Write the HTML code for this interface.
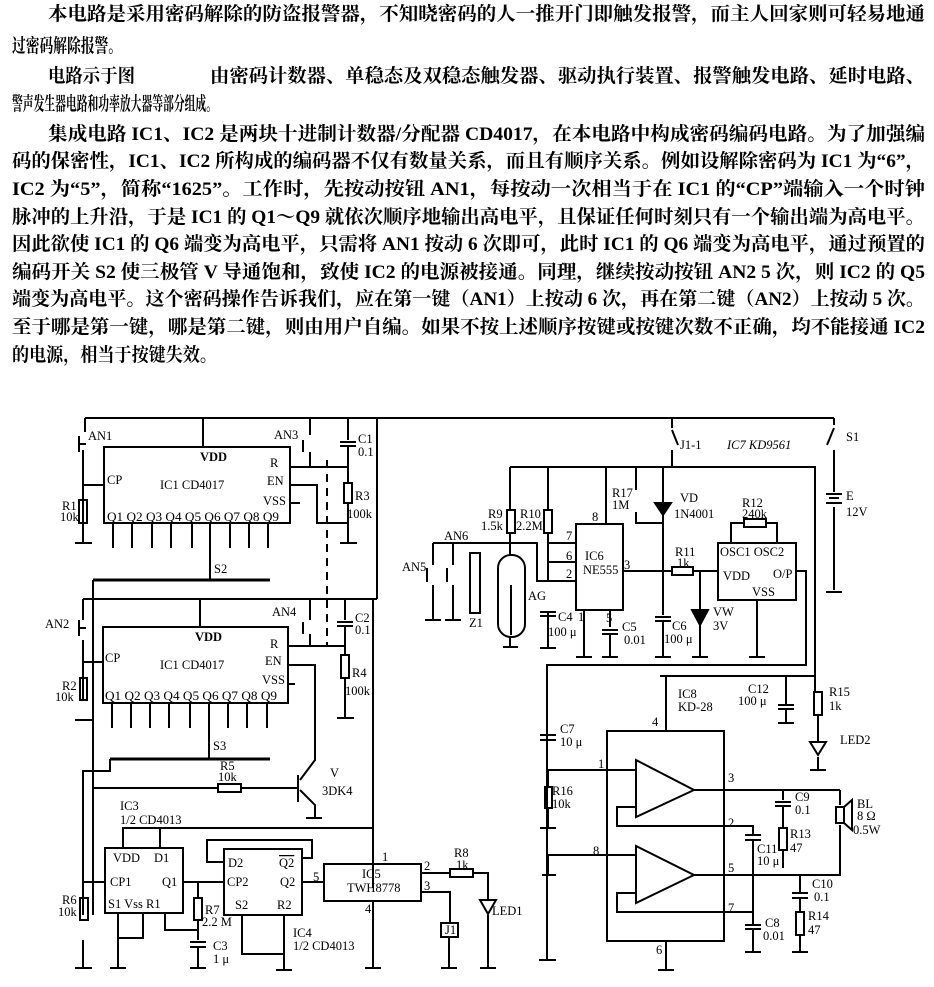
<!DOCTYPE html>
<html><head><meta charset="utf-8"><style>
html,body{margin:0;padding:0;background:#fff;}
svg{display:block}
.t{font-family:"Liberation Serif","Noto Serif CJK SC",serif;font-size:19px;font-weight:bold;fill:#000}
.l{font-family:"Liberation Serif",serif;font-size:12.5px;fill:#000}
</style></head><body>
<svg width="934" height="987" viewBox="0 0 934 987" xmlns="http://www.w3.org/2000/svg">
<g class="t">
<text x="48" y="20" textLength="877" lengthAdjust="spacingAndGlyphs">本电路是采用密码解除的防盗报警器，不知晓密码的人一推开门即触发报警，而主人回家则可轻易地通</text>
<text x="12" y="52" textLength="110" lengthAdjust="spacingAndGlyphs">过密码解除报警。</text>
<text x="48" y="82" textLength="87" lengthAdjust="spacingAndGlyphs">电路示于图</text>
<text x="210" y="82" textLength="715" lengthAdjust="spacingAndGlyphs">由密码计数器、单稳态及双稳态触发器、驱动执行装置、报警触发电路、延时电路、</text>
<text x="12" y="110" textLength="205" lengthAdjust="spacingAndGlyphs">警声发生器电路和功率放大器等部分组成。</text>
<text x="48" y="140" textLength="877" lengthAdjust="spacingAndGlyphs">集成电路 IC1、IC2 是两块十进制计数器/分配器 CD4017，在本电路中构成密码编码电路。为了加强编</text>
<text x="12" y="167" textLength="913" lengthAdjust="spacingAndGlyphs">码的保密性，IC1、IC2 所构成的编码器不仅有数量关系，而且有顺序关系。例如设解除密码为 IC1 为“6”，</text>
<text x="12" y="195" textLength="913" lengthAdjust="spacingAndGlyphs">IC2 为“5”，简称“1625”。工作时，先按动按钮 AN1，每按动一次相当于在 IC1 的“CP”端输入一个时钟</text>
<text x="12" y="223" textLength="913" lengthAdjust="spacingAndGlyphs">脉冲的上升沿，于是 IC1 的 Q1～Q9 就依次顺序地输出高电平，且保证任何时刻只有一个输出端为高电平。</text>
<text x="12" y="250" textLength="913" lengthAdjust="spacingAndGlyphs">因此欲使 IC1 的 Q6 端变为高电平，只需将 AN1 按动 6 次即可，此时 IC1 的 Q6 端变为高电平，通过预置的</text>
<text x="12" y="278" textLength="913" lengthAdjust="spacingAndGlyphs">编码开关 S2 使三极管 V 导通饱和，致使 IC2 的电源被接通。同理，继续按动按钮 AN2 5 次，则 IC2 的 Q5</text>
<text x="12" y="305" textLength="913" lengthAdjust="spacingAndGlyphs">端变为高电平。这个密码操作告诉我们，应在第一键（AN1）上按动 6 次，再在第二键（AN2）上按动 5 次。</text>
<text x="12" y="333" textLength="913" lengthAdjust="spacingAndGlyphs">至于哪是第一键，哪是第二键，则由用户自编。如果不按上述顺序按键或按键次数不正确，均不能接通 IC2</text>
<text x="12" y="361" textLength="205" lengthAdjust="spacingAndGlyphs">的电源，相当于按键失效。</text>
</g>

<g stroke="#000" stroke-width="2" fill="none">
<path d="M85 418 H834 M85 418 V432 M83 450 V542 M75 543 H92"/>
<path d="M79 436 V452 M79 444 H86"/>
<path d="M203 418 V447"/>
<rect x="104" y="447" width="186" height="76"/>
<path d="M83 485 H104"/>
<rect x="79" y="500" width="8" height="23"/>
<path d="M113 523V548 M132 523V548 M152 523V548 M171 523V548 M192 523V548 M210 523V580 M230 523V548 M249 523V548 M268 523V548"/>
<path d="M93 580 H270" stroke-width="3"/>
<path d="M93 580 V915"/>
<path d="M310 418 V435 M303 440 V452 M290 467 H348 M310 452 V467 M290 485 H317 V523 H348 M290 503 H300"/>
<path d="M348 418 V440 M340 442 H356 M340 446 H356 M348 446 V483"/>
<rect x="344" y="483" width="8" height="20"/>
<path d="M348 503 V543 M340 543 H357"/>
<path d="M327 460 V645" stroke-dasharray="8,6"/>
<path d="M377 418 V599 M373 599 V888"/>
<path d="M83 599 H377 M83 599 V620 M83 640 V700 M75 720 H92"/>
<path d="M79 620 V636 M79 628 H86"/>
<path d="M200 599 V627"/>
<rect x="103" y="627" width="185" height="76"/>
<path d="M83 662 H103"/>
<rect x="80" y="678" width="7" height="22"/>
<path d="M112 703V728 M131 703V728 M150 703V728 M169 703V728 M190 703V728 M209 703V759 M228 703V728 M247 703V728 M267 703V728"/>
<path d="M110 759 H270" stroke-width="3"/>
<path d="M110 759 V771 H83 V915 M75 968 H92 M83 940 V968"/>
<path d="M310 599 V620 M303 622 V634 M288 646 H345 M310 634 V646 M288 665 H315 V760 L300 780 M288 684 H295"/>
<path d="M345 599 V620 M337 622 H353 M337 626 H353 M345 626 V655 M345 678 V718 M337 718 H354"/>
<rect x="341" y="655" width="8" height="23"/>
<path d="M93 788 H218 M241 788 H298 M298 775 V802 M300 790 L315 805 V817 M306 818 H322"/>
<rect x="218" y="784" width="23" height="8"/>
<path d="M123 848 V828 H373 M160 848 V828"/>
<rect x="105" y="848" width="78" height="65"/>
<path d="M83 882 H105"/>
<rect x="80" y="898" width="8" height="22"/>
<path d="M118 913 V968 M110 968 H126 M118 938 H143 V913"/>
<path d="M183 882 H224 M198 882 V898 M165 913 V930 H198 V920 M198 930 V940 M190 942 H206 M190 947 H206 M198 947 V968 M190 968 H206"/>
<rect x="194" y="898" width="8" height="22"/>
<rect x="224" y="849" width="78" height="66"/>
<path d="M224 862 H207 V840 H312 V858 H302"/>
<path d="M242 915 V954 H284 V915 M284 954 V970 M276 970 H292"/>
<path d="M302 882 H324"/>
<rect x="324" y="864" width="97" height="37"/>
<path d="M373 888 V864 M373 901 V968 M365 968 H381"/>
<path d="M421 873 H450 M473 873 H488 V900 M421 892 H450 V923 M449 937 V968 M441 968 H457 M488 915 V968 M480 968 H496"/>
<rect x="450" y="869" width="23" height="8"/>
<rect x="441" y="923" width="17" height="14"/>
<path d="M480 900 H496 L488 914 Z"/>
<path d="M672 418 V428 M672 450 V467 M672 430 L678 445 M834 418 V425 M834 450 V492 M826 494 H842 M829 498 H839 M826 503 H842 M834 507 V590 M826 592 H842 M834 428 L827 445"/>
<path d="M510 467 H815 V692 M510 467 V510 M548 467 V510 M606 467 V524 M636 467 V490 M636 512 V523 H663 V467"/>
<rect x="507" y="510" width="8" height="23"/>
<rect x="544" y="510" width="8" height="23"/>
<path d="M510 533 V555 M510 637 V647 M503 647 H518 M548 533 V582 M548 611 V648 M540 648 H556 M433 543 H537 V581 H576 M548 562 H576 M548 543 H576"/>
<rect x="576" y="524" width="47" height="86"/>
<rect x="498" y="555" width="27" height="82" rx="13"/>
<path d="M511 585 V635"/>
<path d="M433 543 V565 M427 568 V582 M433 585 V620 M425 620 H441 M453 543 V565 M447 568 V582 M453 585 V620 M445 620 H461"/>
<rect x="470" y="553" width="10" height="60"/>
<path d="M540 612 H556 M540 616 H556 M584 610 V657 M576 657 H592 M610 610 V627 M602 630 H618 M602 634 H618 M610 634 V657 M602 657 H618"/>
<path d="M663 467 V615 M655 617 H671 M655 621 H671 M663 621 V657 M655 657 H671"/>
<path d="M623 571 H672 M693 571 H718 M700 571 V657 M692 657 H708"/>
<rect x="672" y="567" width="21" height="8"/>
<path d="M692 610 H708 L700 625 Z" fill="#000"/>
<path d="M655 503 H671 L663 515 Z" fill="#000"/>
<rect x="718" y="543" width="78" height="57"/>
<rect x="744" y="519" width="22" height="8"/>
<path d="M731 543 V523 H744 M766 523 H777 V543 M757 600 V657 M749 657 H765 M796 571 H806 V665 H547 V960 M539 960 H556"/>
<path d="M660 676 H815 M666 676 V731 M786 676 V705 M778 705 H794 M778 709 H794 M786 709 V723 M778 723 H794 M818 715 V742 M818 757 V770 M810 770 H826"/>
<rect x="814" y="692" width="8" height="23"/>
<path d="M810 742 H826 L818 755 Z"/>
<path d="M540 735 H556 M540 740 H556 M548 787 V770 H636 M548 808 V828 M540 828 H556"/>
<rect x="545" y="787" width="7" height="21"/>
<rect x="607" y="731" width="117" height="210"/>
<path d="M636 760 V817 L694 790 Z M636 846 V903 L694 875 Z"/>
<path d="M694 790 H840 M694 875 H840 V825 M840 805 V790 M636 807 H617 V826 H753 V835 M636 893 H617 V912 H753 V925 M745 835 H761 M745 840 H761 M753 840 V875 M753 875 V925 M745 925 H761 M745 929 H761 M753 929 V952 M745 952 H761"/>
<path d="M548 855 H636 M548 855 V875 M542 875 H556 M666 941 V970 M658 970 H674"/>
<path d="M783 790 V800 M775 802 H791 M775 806 H791 M783 806 V828 M783 850 V868"/>
<rect x="779" y="828" width="8" height="22"/>
<path d="M800 875 V893 M792 893 H808 M792 898 H808 M800 898 V912 M800 935 V952 M792 952 H808"/>
<rect x="796" y="912" width="8" height="23"/>
<rect x="836" y="807" width="8" height="16"/>
<path d="M844 807 L852 800 V830 L844 823"/>
</g>

<g class="l">
<text x="88" y="440">AN1</text><text x="200" y="461" font-weight="bold">VDD</text>
<text x="107" y="484">CP</text><text x="160" y="489">IC1   CD4017</text>
<text x="270" y="467">R</text><text x="267" y="485">EN</text><text x="263" y="505">VSS</text>
<text x="107" y="521" textLength="172" lengthAdjust="spacingAndGlyphs">Q1 Q2 Q3 Q4  Q5 Q6 Q7 Q8 Q9</text>
<text x="62" y="510">R1</text><text x="60" y="521">10k</text>
<text x="274" y="439">AN3</text><text x="358" y="443">C1</text><text x="358" y="456">0.1</text>
<text x="355" y="500">R3</text><text x="347" y="518">100k</text>
<text x="214" y="573">S2</text>
<text x="45" y="628">AN2</text><text x="195" y="641" font-weight="bold">VDD</text>
<text x="105" y="662">CP</text><text x="160" y="669">IC1   CD4017</text>
<text x="270" y="648">R</text><text x="265" y="665">EN</text><text x="262" y="684">VSS</text>
<text x="105" y="700" textLength="172" lengthAdjust="spacingAndGlyphs">Q1 Q2 Q3 Q4  Q5 Q6 Q7 Q8 Q9</text>
<text x="62" y="690">R2</text><text x="55" y="701">10k</text>
<text x="272" y="616">AN4</text><text x="355" y="622">C2</text><text x="355" y="634">0.1</text>
<text x="352" y="677">R4</text><text x="345" y="695">100k</text>
<text x="213" y="750">S3</text><text x="220" y="770">R5</text><text x="218" y="781">10k</text>
<text x="330" y="777">V</text><text x="322" y="795">3DK4</text>
<text x="120" y="810">IC3</text><text x="120" y="824">1/2   CD4013</text>
<text x="113" y="862">VDD</text><text x="154" y="862">D1</text>
<text x="110" y="886">CP1</text><text x="162" y="886">Q1</text>
<text x="108" y="908">S1  Vss  R1</text>
<text x="62" y="904">R6</text><text x="58" y="916">10k</text>
<text x="205" y="914">R7</text><text x="202" y="926">2.2 M</text>
<text x="213" y="950">C3</text><text x="213" y="963">1 μ</text>
<text x="228" y="867">D2</text><text x="279" y="867" text-decoration="overline">Q2</text>
<text x="227" y="886">CP2</text><text x="280" y="886">Q2</text>
<text x="235" y="909">S2</text><text x="277" y="909">R2</text>
<text x="293" y="937">IC4</text><text x="293" y="950">1/2   CD4013</text>
<text x="313" y="881">5</text><text x="382" y="861">1</text>
<text x="362" y="878">IC5</text><text x="347" y="892">TWH8778</text>
<text x="424" y="870">2</text><text x="424" y="890">3</text><text x="365" y="913">4</text>
<text x="454" y="857">R8</text><text x="456" y="869">1k</text>
<text x="445" y="934">J1</text><text x="492" y="915">LED1</text>
<text x="680" y="449">J1-1</text><text x="727" y="449" font-style="italic">IC7   KD9561</text>
<text x="846" y="441">S1</text><text x="846" y="500">E</text><text x="846" y="516">12V</text>
<text x="488" y="518">R9</text><text x="481" y="530">1.5k</text>
<text x="520" y="518">R10</text><text x="516" y="530">2.2M</text>
<text x="612" y="497">R17</text><text x="612" y="509">1M</text>
<text x="680" y="502">VD</text><text x="674" y="518">1N4001</text>
<text x="742" y="507">R12</text><text x="742" y="518">240k</text>
<text x="592" y="521">8</text><text x="566" y="540">7</text><text x="566" y="560">6</text><text x="566" y="578">2</text>
<text x="585" y="560">IC6</text><text x="583" y="574">NE555</text><text x="624" y="569">3</text>
<text x="444" y="540">AN6</text><text x="402" y="571">AN5</text><text x="469" y="627">Z1</text><text x="528" y="600">AG</text>
<text x="558" y="621">C4</text><text x="548" y="636">100 μ</text><text x="578" y="621">1</text>
<text x="606" y="622">5</text><text x="622" y="631">C5</text><text x="624" y="644">0.01</text>
<text x="672" y="630">C6</text><text x="664" y="643">100 μ</text>
<text x="675" y="556">R11</text><text x="677" y="567">1k</text>
<text x="713" y="616">VW</text><text x="713" y="630">3V</text>
<text x="720" y="556">OSC1 OSC2</text><text x="723" y="580">VDD</text><text x="773" y="578">O/P</text><text x="752" y="596">VSS</text>
<text x="678" y="698">IC8</text><text x="678" y="711">KD-28</text>
<text x="748" y="693">C12</text><text x="738" y="705">100 μ</text>
<text x="829" y="696">R15</text><text x="829" y="710">1k</text><text x="840" y="744">LED2</text>
<text x="560" y="733">C7</text><text x="560" y="746">10 μ</text><text x="652" y="726">4</text>
<text x="552" y="795">R16</text><text x="552" y="808">10k</text>
<text x="598" y="768">1</text><text x="728" y="782">3</text><text x="728" y="827">2</text>
<text x="593" y="855">8</text><text x="728" y="872">5</text><text x="728" y="912">7</text><text x="656" y="954">6</text>
<text x="795" y="801">C9</text><text x="795" y="814">0.1</text>
<text x="790" y="838">R13</text><text x="790" y="852">47</text>
<text x="757" y="853">C11</text><text x="757" y="865">10 μ</text>
<text x="857" y="808">BL</text><text x="857" y="820">8 Ω</text><text x="853" y="834">0.5W</text>
<text x="812" y="888">C10</text><text x="814" y="901">0.1</text>
<text x="808" y="920">R14</text><text x="808" y="934">47</text>
<text x="765" y="927">C8</text><text x="763" y="940">0.01</text>
</g>
</svg>
</body></html>
